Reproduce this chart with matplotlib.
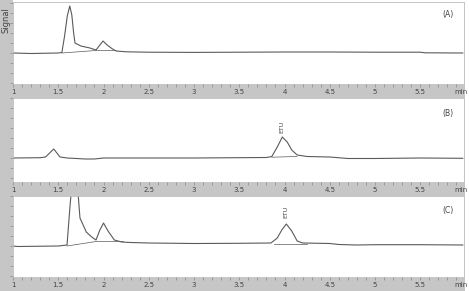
import matplotlib
matplotlib.use("Agg")
import matplotlib.pyplot as plt
import numpy as np

# ---------------- data (time in min, signal in arbitrary units) ----------------
t_a = [1.0, 1.2, 1.5, 1.54, 1.57, 1.60, 1.627, 1.65, 1.67, 1.685, 1.75, 1.85, 1.917,
       1.96, 1.995, 2.04, 2.10, 2.14, 2.25, 2.5, 3.0, 3.5, 4.0, 4.5, 5.0, 5.5, 5.55, 5.97]
s_a = [0.0, -0.5, 0.0, 0.5, 17, 37, 47, 38, 20, 10, 7, 5, 3,
       8, 12, 8, 4, 2, 1.2, 0.8, 0.6, 0.8, 1.0, 1.0, 0.8, 0.8, 0.2, 0.0]

t_b = [1.0, 1.3, 1.36, 1.45, 1.52, 1.6, 1.8, 1.9, 2.0, 3.0, 3.8, 3.86, 3.92,
       3.976, 4.03, 4.08, 4.14, 4.25, 4.5, 4.7, 5.0, 5.5, 5.97]
s_b = [0.0, 0.3, 1.0, 9.0, 1.0, 0.0, -1.0, -1.0, 0.0, 0.0, 0.5, 1.5, 11,
       21, 16, 8, 3, 1.5, 1.0, -0.5, -0.5, 0.0, -0.3]

t_c = [1.0, 1.05, 1.5, 1.597, 1.63, 1.665, 1.70, 1.74, 1.81, 1.87, 1.917,
       1.96, 2.0, 2.05, 2.12, 2.2, 2.3, 2.5, 3.0, 3.5, 3.85, 3.92, 3.97, 4.02,
       4.08, 4.14, 4.2, 4.5, 4.6, 4.8, 5.0, 5.5, 5.97]
s_c = [0.0, -0.5, 0.0, 1.0, 40, 75, 75, 28, 14, 9, 6,
       16, 23, 15, 6, 4, 3.5, 3.0, 2.5, 2.7, 3.0, 8, 16, 22,
       15, 5, 3, 2.5, 1.5, 1.0, 1.3, 1.3, 1.0]

# integration baselines
bt_a = [1.54, 1.917, 2.14]
bs_a = [0.0, 2.5, 2.5]
bt_b = [3.86, 4.14]
bs_b = [0.8, 1.5]
bt_c = [1.597, 1.917, 2.22]
bs_c = [0.0, 4.5, 4.5]
bt_c2 = [3.88, 4.25]
bs_c2 = [2.5, 2.5]

xticks = [1, 1.5, 2, 2.5, 3, 3.5, 4, 4.5, 5, 5.5]
xlabels = ["1", "1.5", "2", "2.5", "3", "3.5", "4", "4.5", "5", "5.5"]
panel_labels = ["(A)", "(B)", "(C)"]

# ---------------- layout ----------------
W, H = 469, 291
fig = plt.figure(figsize=(W / 100, H / 100), dpi=100)
fig.patch.set_facecolor("white")

GRAY = "#c6c6c6"
LINE = "#5a5a5a"
TXT = "#444444"

def fr(x0, y0, x1, y1):
    return [x0 / W, 1 - y1 / H, (x1 - x0) / W, (y1 - y0) / H]

# left strip
strip = fig.add_axes(fr(0, 0, 13, H))
strip.set_facecolor(GRAY)
strip.set_xticks([]); strip.set_yticks([])
for sp in strip.spines.values():
    sp.set_visible(False)
strip.text(0.45, 0.975, "Signal", rotation=90, ha="center", va="top",
           fontsize=6, color=TXT, transform=strip.transAxes)

XL, XR = 13, 464
XMIN, XMAX = 1.0, 1.0 + (XR - XL) / 90.5

panels = [
    (2, 84, 98, t_a, s_a, [(bt_a, bs_a)], 53, None, None),
    (98, 182, 196, t_b, s_b, [(bt_b, bs_b)], 158, 3.976, 0.58),
    (196, 277, 291, t_c, s_c, [(bt_c, bs_c), (bt_c2, bs_c2)], 246, 4.02, 0.73),
]

for i, (top, bot, bbot, t, s, bls, base_y, etu_t, etu_y) in enumerate(panels):
    ax = fig.add_axes(fr(XL, top, XR, bot))
    ax.plot(t, s, color=LINE, lw=0.8)
    for bt, bs in bls:
        ax.plot(bt, bs, color=LINE, lw=0.5)
    ax.set_xlim(XMIN, XMAX)
    ax.set_ylim(-(bot - base_y), base_y - top)
    ax.set_xticks([])
    ax.yaxis.set_major_locator(plt.MultipleLocator(10))
    ax.tick_params(axis="y", direction="out", length=2, width=0.5,
                   color="#888888", labelleft=False)
    for name, sp in ax.spines.items():
        sp.set_color("#bbbbbb")
        sp.set_linewidth(0.6)
    ax.text(0.965, 0.85 if i == 0 else 0.82, panel_labels[i], transform=ax.transAxes,
            fontsize=5.5, color=TXT, ha="center", va="center")
    if etu_t is not None:
        ax.text(etu_t, etu_y, "ETU", rotation=90,
                transform=ax.get_xaxis_transform(),
                fontsize=4.5, color=TXT, ha="center", va="bottom")

    band = fig.add_axes(fr(XL, bot, XR + 1, bbot))
    band.set_facecolor(GRAY)
    band.set_xlim(XMIN, XMAX + 1 / 90.5)
    band.set_ylim(0, 1)
    band.set_yticks([])
    band.xaxis.set_major_locator(plt.MultipleLocator(0.5))
    band.xaxis.set_minor_locator(plt.MultipleLocator(0.1))
    band.tick_params(axis="x", which="both", top=True, bottom=False, direction="in",
                     length=2, width=0.5, color="#888888", labelbottom=False)
    for sp in band.spines.values():
        sp.set_visible(False)
    for xv, lab in zip(xticks, xlabels):
        band.text(xv, 0.4, lab, fontsize=5, color=TXT, ha="center", va="center")
    band.text(XMAX - 0.03, 0.4, "min", fontsize=5, color=TXT, ha="center", va="center")

fig.savefig("out.png", dpi=100)
